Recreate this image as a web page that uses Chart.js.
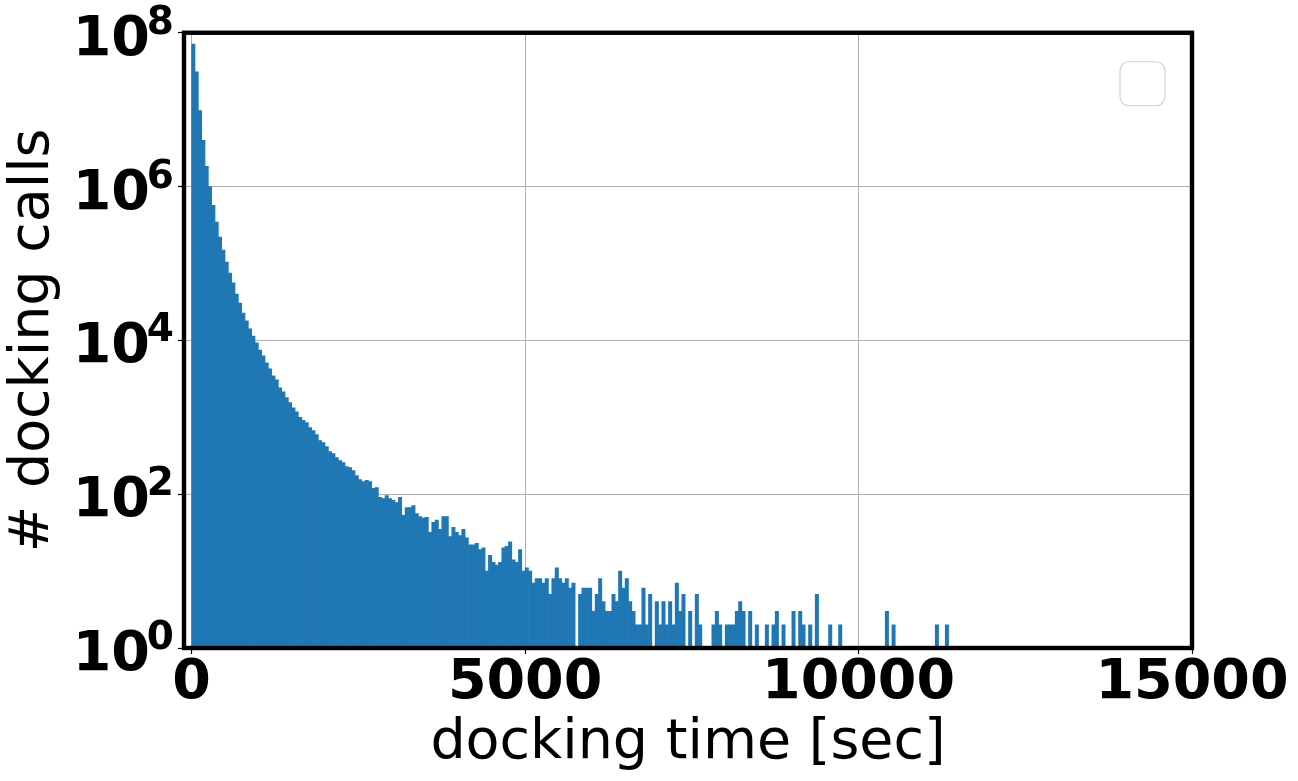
<!DOCTYPE html>
<html>
<head>
<meta charset="utf-8">
<script src="https://cdn.jsdelivr.net/npm/chart.js@4.4.1/dist/chart.umd.min.js"></script>
<style>
  html, body { margin: 0; padding: 0; background: #fff; }
  #wrap { width: 1298px; height: 781px; }
</style>
</head>
<body>
<div id="wrap"><canvas id="chart" width="1298" height="781"></canvas></div>
<script>
// histogram of docking times, 50 sec bins starting at 0
// null = empty bin (or a single call, which has no height on a log axis)
const binWidth = 50;
const binCounts = [
  7.1e7, 3.1e7, 9.7e6, 4.0e6, 1.83e6, 1.0e6, 5.7e5, 3.44e5, 2.2e5, 1.49e5,
  104000, 75000, 56000, 40000, 30600, 22700, 17900, 14100, 11400, 9300,
  7500, 6300, 5100, 4270, 3470, 3080, 2420, 2150, 1800, 1550,
  1330, 1180, 1000, 913, 852, 734, 671, 595, 498, 469,
  416, 358, 338, 300, 274, 258, 229, 222, 203, 175,
  155, 146, 151, 146, 119, 122, 91, 88, 96, 88,
  83, 78, 91, 53, 67, 67, 71, 56, 51, 49,
  50, 32, 43, 46, 35, 51, 51, 28, 37, 32,
  29, 35, 27, 22, 22, 23, 19, 20, 10, 16,
  13, 12, 13, 20, 21, 24, 14, 13, 19, 10,
  11, 10, 7, 8, 8, 7, 8, 5, 8, 11,
  8, 7, 8, 6, 7, null, 5, 6, 6, 6,
  3, 5, 8, 4, 3, 3, 5, 4, 10, 6,
  8, 4, 3, 2, 2, 6, 2, 5, null, 4,
  2, 4, 2, 4, 2, 7, 3, 5, null, 3,
  null, 5, 2, null, null, null, 2, 3, 2, null,
  2, 2, 2, 3, 4, 3, null, 3, null, 2,
  null, null, 2, null, 2, 3, null, 2, null, null,
  3, null, 3, 2, null, 2, null, 5, null, null,
  null, 2, null, null, 2, null, null, null, null, null,
  null, null, null, null, null, null, null, null, 3, null,
  2, null, null, null, null, null, null, null, null, null,
  null, null, null, 2, null, null, 2
];

const xTicks = [0, 5000, 10000, 15000];
const yTicks = [1, 1e2, 1e4, 1e6, 1e8];
const yTickExponents = ["0", "2", "4", "6", "8"];

const FONT = "DejaVu Sans";
const barColor = "#1f77b4";

const histData = binCounts.map((c, i) => ({ x: i * binWidth + binWidth / 2, y: c }));

// y labels drawn as "10" + a raised exponent, the way matplotlib mathtext does it
const powerLabels = {
  id: "powerLabels",
  afterDraw(chart) {
    const { ctx } = chart;
    const y = chart.scales.y;
    const right = chart.chartArea.left - 10;
    ctx.save();
    ctx.fillStyle = "#000";
    ctx.textBaseline = "alphabetic";
    ctx.textAlign = "right";
    yTicks.forEach((v, i) => {
      const py = y.getPixelForValue(v);
      ctx.font = "bold 39px '" + FONT + "'";
      const supW = ctx.measureText(yTickExponents[i]).width;
      ctx.fillText(yTickExponents[i], right, py + 1);
      ctx.font = "bold 55.5px '" + FONT + "'";
      ctx.fillText("10", right - supW + 3, py + 22);
    });
    ctx.restore();
  }
};

// spines + the empty legend box matplotlib left in the corner
const framePlugin = {
  id: "frame",
  afterDraw(chart) {
    const { ctx, chartArea: a } = chart;
    ctx.save();
    const w = 45, h = 44;
    const lx = a.right - 27 - w, ly = a.top + 29;
    ctx.beginPath();
    ctx.roundRect(lx, ly, w, h, 9);
    ctx.fillStyle = "rgba(255,255,255,0.8)";
    ctx.fill();
    ctx.strokeStyle = "#d0d0d0";
    ctx.lineWidth = 1.2;
    ctx.stroke();

    ctx.strokeStyle = "#000";
    ctx.lineWidth = 4.4;
    ctx.strokeRect(a.left, a.top, a.right - a.left, a.bottom - a.top);
    ctx.restore();
  }
};

new Chart(document.getElementById("chart"), {
  type: "bar",
  data: {
    datasets: [{
      data: histData,
      backgroundColor: barColor,
      borderWidth: 0,
      barPercentage: 1,
      categoryPercentage: 1
    }]
  },
  options: {
    responsive: false,
    animation: false,
    layout: { padding: { top: 31, right: 106, bottom: 0, left: 0 } },
    plugins: { legend: { display: false }, tooltip: { enabled: false } },
    scales: {
      x: {
        type: "linear",
        min: -115,
        max: 15000,
        offset: false,
        z: 1,
        grid: { offset: false, color: "#b0b0b0", lineWidth: 1, tickColor: "#000", tickLength: 6, tickWidth: 1.2 },
        border: { display: false },
        afterBuildTicks: (s) => { s.ticks = xTicks.map(v => ({ value: v })); },
        afterFit: (s) => { s.height = 133; },
        ticks: {
          autoSkip: false,
          maxRotation: 0,
          padding: 2,
          color: "#000",
          font: { family: FONT, size: 55.5, weight: "bold", lineHeight: 1 },
          callback: (v) => String(v)
        },
        title: {
          display: true,
          text: "docking time [sec]",
          color: "#000",
          font: { family: FONT, size: 55.5 },
          padding: { top: 0, bottom: 4 }
        }
      },
      y: {
        type: "logarithmic",
        min: 1,
        max: 1e8,
        z: 1,
        grid: { color: "#b0b0b0", lineWidth: 1, tickColor: "#000", tickLength: 6, tickWidth: 1.2 },
        border: { display: false },
        afterBuildTicks: (s) => { s.ticks = yTicks.map(v => ({ value: v })); },
        afterFit: (s) => { s.width = 184; },
        ticks: {
          autoSkip: false,
          padding: 5,
          color: "#000",
          font: { family: FONT, size: 55.5, weight: "bold", lineHeight: 1 },
          callback: () => ""
        },
        title: {
          display: true,
          text: "# docking calls",
          color: "#000",
          font: { family: FONT, size: 55.5 },
          padding: { top: 0, bottom: 0 }
        }
      }
    }
  },
  plugins: [powerLabels, framePlugin]
});
</script>
</body>
</html>
